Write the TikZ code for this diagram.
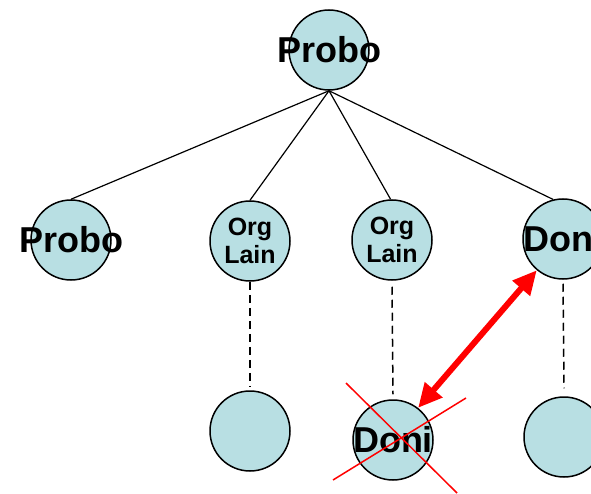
\documentclass[tikz,border=0pt]{standalone}
\usepackage{fontspec}
\setmainfont{Liberation Sans}
\usetikzlibrary{arrows.meta}
\definecolor{bulle}{RGB}{184,223,227}
\tikzset{
    bulle/.style={circle,draw=black,line width=1.5pt,fill=bulle,minimum size=80pt,inner sep=0pt},
    grand/.style={font=\fontsize{36}{40}\selectfont\bfseries},
    petit/.style={font=\fontsize{25}{28}\selectfont\bfseries,align=center},
    tirets/.style={line width=1.5pt,dash pattern=on 8pt off 5pt},
  }

\begin{document}
\begin{tikzpicture}[x=1pt,y=-1pt]
				  \useasboundingbox (0,0) rectangle (591,494);
				  
				  %RACINE
				  \node[bulle,label={[grand]center:Probo}] (P) at (329,50) {};
				  
				  %FILS
				  \node[bulle,label={[grand]center:Probo}] (P1) at (71,240) {};
				  \node[bulle,label={[petit]center:{Org\\Lain}}] (O1) at (250,241) {};
				  \node[bulle,label={[petit]center:{Org\\Lain}}] (O2) at (392,240) {};
				  \node[bulle,label={[grand]center:Doni}] (D) at (563,239) {};
				  
				  %ARETES
				  \foreach \f/\a in {P1/90,O1/90,O2/92,D/104}
				  	\draw[line width=1.2pt] (P.south) -- (\f.\a);
				  
				  %PETITS-FILS
				  \node[bulle] (E1) at (250,431) {};
				  \node[bulle,label={[grand]center:Doni}] (D') at (393,440) {};
				  \node[bulle] (E2) at (564,437) {};
				  \draw[tirets] (O1.south) -- ([yshift=4pt]E1.north);
				  \draw[tirets] ([yshift=-6pt]O2.south) -- ([yshift=5pt]D'.north);
				  \draw[tirets] ([yshift=-4pt]D.south) -- ([yshift=8pt]E2.north);
				  
				  %FLECHE
				  \draw[red,line width=6pt,{Triangle[length=24pt,width=22pt]}-{Triangle[length=24pt,width=22pt]}] (D.230) -- (D'.52);
				  
				  %CROIX
				  \coordinate (X1) at (346,383);
				  \coordinate (X2) at (457,493);
				  \coordinate (X3) at (333,480);
				  \coordinate (X4) at (466,398);
				  \draw[red,line width=1.5pt] (X1) -- (X2);
				  \draw[red,line width=1.5pt] (X3) -- (X4);
\end{tikzpicture}
\end{document}
